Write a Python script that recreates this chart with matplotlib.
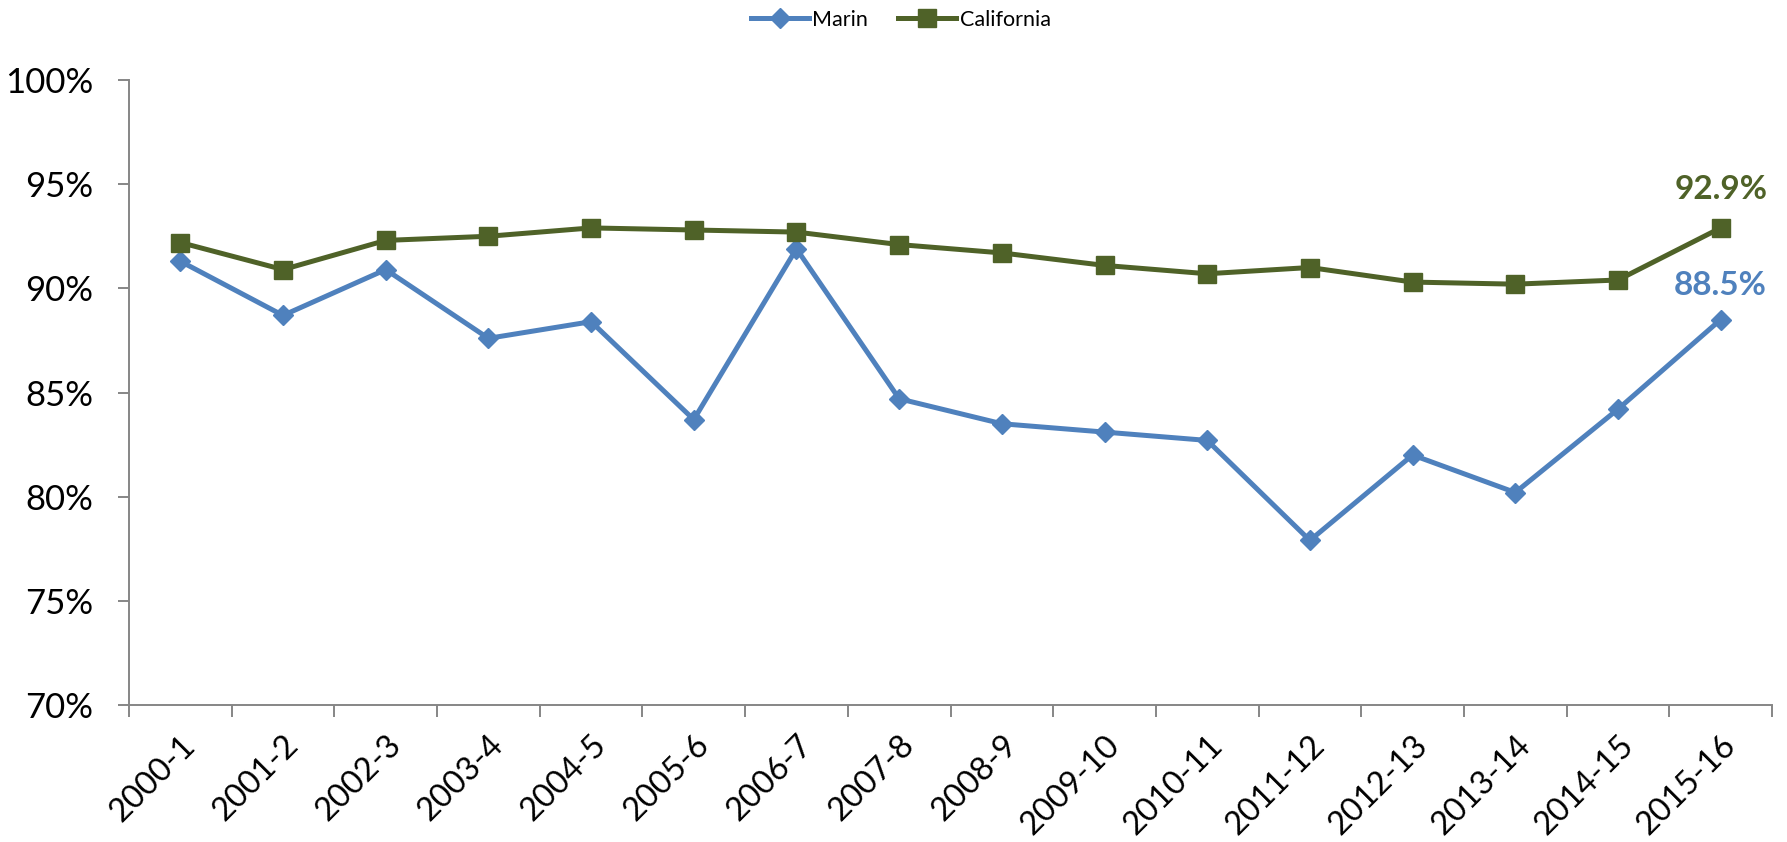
import matplotlib
matplotlib.use("Agg")
import matplotlib.pyplot as plt
from matplotlib.ticker import FuncFormatter, FixedLocator

years = ["2000-1", "2001-2", "2002-3", "2003-4", "2004-5", "2005-6", "2006-7",
         "2007-8", "2008-9", "2009-10", "2010-11", "2011-12", "2012-13",
         "2013-14", "2014-15", "2015-16"]
marin = [91.3, 88.7, 90.9, 87.6, 88.4, 83.7, 91.9, 84.7, 83.5, 83.1, 82.7,
         77.9, 82.0, 80.2, 84.2, 88.5]
california = [92.2, 90.9, 92.3, 92.5, 92.9, 92.8, 92.7, 92.1, 91.7, 91.1,
              90.7, 91.0, 90.3, 90.2, 90.4, 92.9]
y_ticks = [70, 75, 80, 85, 90, 95, 100]

blue = "#4F81BD"
green = "#4F6228"
axis_grey = "#868686"

plt.rcParams["font.family"] = ["Lato", "DejaVu Sans"]

fig = plt.figure(figsize=(17.87, 8.42), dpi=100)
W, H = 1787, 842
left, right, top, bottom = 129, 1772, 80, 705
ax = fig.add_axes([left / W, 1 - bottom / H, (right - left) / W, (bottom - top) / H])

x = list(range(len(years)))
ax.plot(x, marin, color=blue, lw=3.6, marker="D", ms=10, mfc=blue, mec=blue,
        label="Marin", zorder=3)
ax.plot(x, california, color=green, lw=3.6, marker="s", ms=12.5, mfc=green,
        mec=green, label="California", zorder=3)

ax.set_xlim(-0.5, len(years) - 0.5)
ax.set_ylim(70, 100)

# category ticks sit on the boundaries, labels at the centres
ax.xaxis.set_major_locator(FixedLocator([i - 0.5 for i in range(len(years) + 1)]))
ax.xaxis.set_major_formatter(FuncFormatter(lambda v, p: ""))
ax.xaxis.set_minor_locator(FixedLocator(x))
ax.set_xticklabels(years, minor=True, rotation=45, ha="right",
                   rotation_mode="anchor", fontsize=23.5)
ax.tick_params(axis="x", which="minor", length=0, pad=18)
ax.tick_params(axis="x", which="major", length=8.5, width=1.4, color=axis_grey,
               direction="out")

ax.set_yticks(y_ticks)
ax.yaxis.set_major_formatter(FuncFormatter(lambda v, p: f"{v:.0f}%"))
ax.tick_params(axis="y", length=8, width=1.4, color=axis_grey, labelsize=25,
               pad=18)

for s in ["top", "right"]:
    ax.spines[s].set_visible(False)
for s in ["left", "bottom"]:
    ax.spines[s].set_color(axis_grey)
    ax.spines[s].set_linewidth(1.4)

ax.annotate(f"{california[-1]:.1f}%", (x[-1], california[-1]),
            xytext=(0, 21), textcoords="offset points", ha="center",
            va="baseline", fontsize=24, fontweight="bold", color=green)
ax.annotate(f"{marin[-1]:.1f}%", (x[-1], marin[-1]),
            xytext=(0, 18), textcoords="offset points", ha="center",
            va="baseline", fontsize=24, fontweight="bold", color=blue)

fig.legend(loc="center", bbox_to_anchor=(0.504, 1 - 20 / H), ncol=2,
           frameon=False, fontsize=15.5, handlelength=2.7, columnspacing=1.4,
           handletextpad=0.15)

fig.savefig("out.png", dpi=100)
